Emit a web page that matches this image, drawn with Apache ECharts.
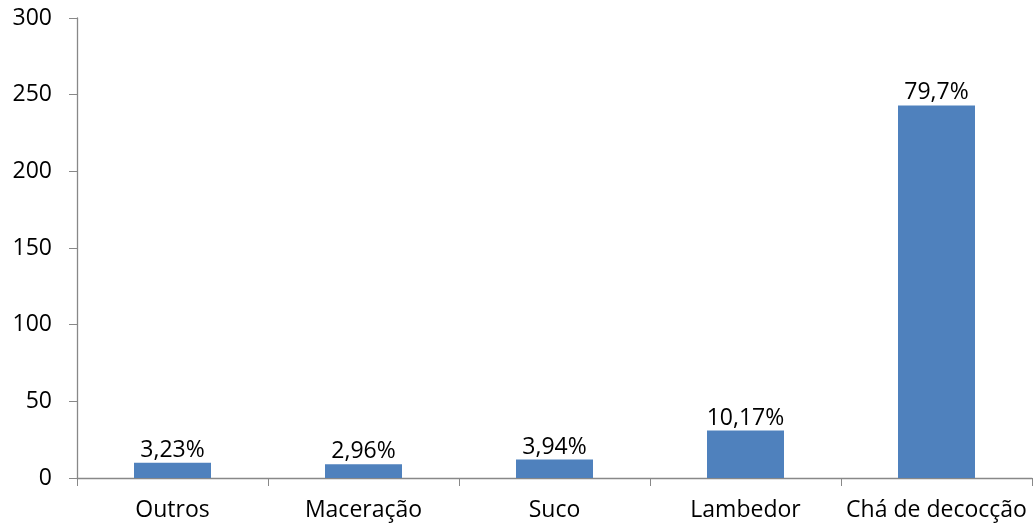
<!DOCTYPE html>
<html><head><meta charset="utf-8">
<script src="https://cdn.jsdelivr.net/npm/echarts@6/dist/echarts.min.js"></script>
<style>html,body{margin:0;padding:0;background:#fff}#c{width:1036px;height:523px}</style>
</head><body><div id="c"></div>
<script>
const categories = ['Outros', 'Maceração', 'Suco', 'Lambedor', 'Chá de decocção'];
const values = [10, 9, 12, 31, 243];
const labels = ['3,23%', '2,96%', '3,94%', '10,17%', '79,7%'];

const chart = echarts.init(document.getElementById('c'));
const font = 'Open Sans, Liberation Sans, sans-serif';
chart.setOption({
  animation: false,
  grid: { left: 77, right: 4, top: 18, bottom: 45 },
  xAxis: {
    type: 'category', data: categories,
    axisLine: { lineStyle: { color: '#888', width: 1.3 } },
    axisTick: { show: true, length: 8, lineStyle: { color: '#888' } },
    axisLabel: { interval: 0, color: '#000', fontSize: 23, fontFamily: font, margin: 21 }
  },
  yAxis: {
    type: 'value', min: 0, max: 300, interval: 50,
    axisLine: { show: true, lineStyle: { color: '#888', width: 1.3 } },
    axisTick: { show: true, length: 8, lineStyle: { color: '#888' } },
    splitLine: { show: false },
    axisLabel: { color: '#000', fontSize: 23, fontFamily: font, margin: 25 }
  },
  series: [{
    type: 'bar', data: values, barWidth: 77,
    itemStyle: { color: '#4f81bd' },
    label: {
      show: true, position: 'top', distance: 1, color: '#000', fontSize: 23, fontFamily: font,
      formatter: p => labels[p.dataIndex]
    }
  }]
});
</script></body></html>
